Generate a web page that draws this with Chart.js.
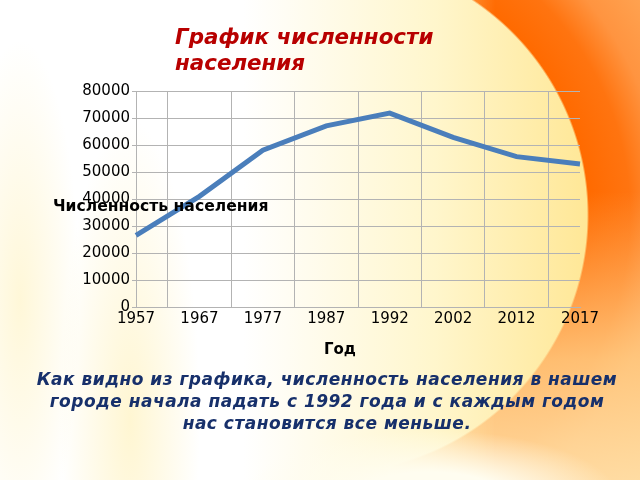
<!DOCTYPE html>
<html>
<head>
<meta charset="utf-8">
<script src="https://cdn.jsdelivr.net/npm/chart.js@4"></script>
<style>
  body { margin: 0; }
  #page {
    position: relative;
    width: 640px;
    height: 480px;
    overflow: hidden;
    font-family: "DejaVu Sans", sans-serif;
    background:
      radial-gradient(ellipse 70px 300px at 130px 420px, rgba(255,240,180,0.6) 0%, rgba(255,240,184,0) 100%),
      radial-gradient(ellipse 60px 260px at 20px 300px, rgba(255,242,190,0.6) 0%, rgba(255,240,190,0) 100%),
      linear-gradient(to right, #ffffff 38%, #fff6cc 68%, #ffe796 92%);
  }
  #orange {
    position: absolute; left: 330px; top: 0; width: 310px; height: 480px;
    background:
      linear-gradient(to bottom, rgba(255,214,150,0) 40%, rgba(255,210,140,0.8) 75%, rgba(255,225,170,0.9) 100%),
      radial-gradient(circle at 0px 215px, #ff6a00 258px, #ff7410 300px, #ff9440 335px, #ffb060 420px);
    -webkit-mask-image:
      radial-gradient(circle at 0px 215px, transparent 257px, #000 259px),
      linear-gradient(to right, transparent 60px, #000 165px);
    -webkit-mask-composite: source-in;
    mask-image:
      radial-gradient(circle at 0px 215px, transparent 257px, #000 259px),
      linear-gradient(to right, transparent 60px, #000 165px);
    mask-composite: intersect;
  }
  #glow {
    position: absolute; left: 0; top: 0; width: 640px; height: 480px;
    background: radial-gradient(ellipse 190px 70px at 430px 500px, rgba(255,253,240,1) 40%, rgba(255,250,230,0) 100%);
  }
  .txt { position: absolute; white-space: nowrap; }
  #title { left: 175px; top: 24px; font: italic bold 21.4px/26px "DejaVu Sans"; color: #b80000; }
  #ylab { left: 53px; top: 197px; font: bold 15.6px/18px "DejaVu Sans"; color: #000; }
  #xlab { left: 340px; top: 340px; transform: translateX(-50%); font: bold 15px/18px "DejaVu Sans"; color: #000; }
  #note { left: 0; width: 654px; top: 368px; text-align: center; font: italic bold 17px/22px "DejaVu Sans"; letter-spacing: 0.5px; color: #17306b; }
  canvas { position: absolute; left: 0; top: 0; }
</style>
</head>
<body>
<div id="page">
  <div id="orange"></div>
  <div id="glow"></div>
  <canvas id="myChart" width="640" height="480"></canvas>
  <div class="txt" id="title">График численности<br>населения</div>
  <div class="txt" id="ylab">Численность населения</div>
  <div class="txt" id="xlab">Год</div>
  <div class="txt" id="note">Как видно из графика, численность населения в нашем<br>городе начала падать с 1992 года и с каждым годом<br>нас становится все меньше.</div>
</div>
<script>
// Years on the category axis
const years = ["1957", "1967", "1977", "1987", "1992", "2002", "2012", "2017"];
// Population
const population = [26500, 41000, 58100, 67100, 71800, 62800, 55700, 53000];
// Y axis range
const yMin = 0;
const yMax = 80000;
const yStep = 10000;

const gridColor = "#b3b3b3";

new Chart("myChart", {
  type: "line",
  data: {
    labels: years,
    datasets: [{
      data: population,
      borderColor: "#4a7ebb",
      borderWidth: 5,
      pointRadius: 0,
      tension: 0,
      fill: false
    }]
  },
  options: {
    responsive: false,
    animation: false,
    layout: { padding: { top: 91, right: 60, left: 0, bottom: 0 } },
    plugins: {
      legend: { display: false },
      title: { display: false },
      tooltip: { enabled: false }
    },
    scales: {
      x: {
        offset: false,
        grid: { offset: true, color: gridColor, drawTicks: false },
        border: { color: gridColor },
        ticks: {
          color: "#000",
          font: { family: "DejaVu Sans", size: 15 },
          padding: 3,
          maxRotation: 0,
          autoSkip: false
        },
        afterFit(scale) { scale.height = 173; }
      },
      y: {
        min: yMin,
        max: yMax,
        grid: { color: gridColor, tickLength: 4 },
        border: { color: gridColor },
        ticks: {
          stepSize: yStep,
          color: "#000",
          font: { family: "DejaVu Sans", size: 15 },
          padding: 2,
          callback: (v) => String(v)
        },
        afterFit(scale) { scale.width = 136; }
      }
    }
  }
});
</script>
</body>
</html>
